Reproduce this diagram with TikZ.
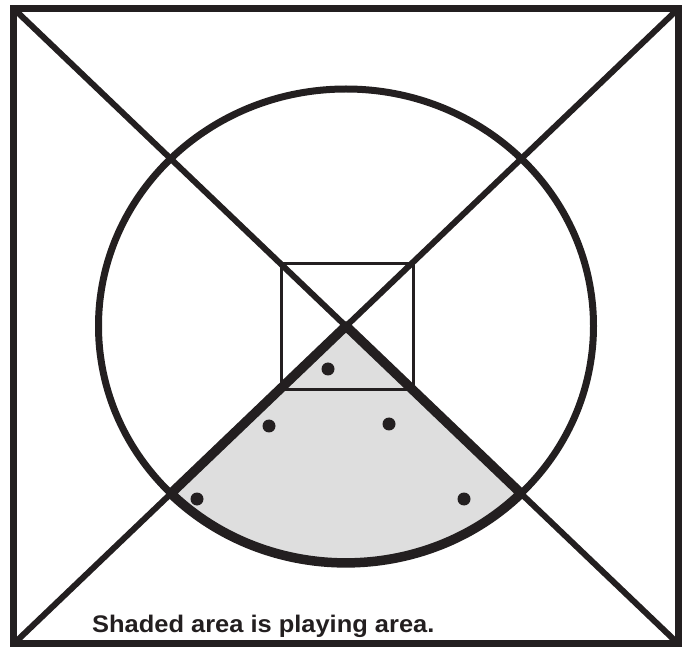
\documentclass[tikz,border=0pt]{standalone}
\usepackage{fontspec}
\setmainfont{Liberation Sans}
\definecolor{ink}{RGB}{35,31,32}
\definecolor{areagray}{RGB}{222,222,222}
\begin{document}
\begin{tikzpicture}[x=1pt,y=-1pt,
  thinline/.style={draw=ink,line width=6pt},
  thickline/.style={draw=ink,line width=9.5pt},
  frame/.style={draw=ink,line width=7.5pt},
  ring/.style={draw=ink,line width=7pt},
  inner/.style={draw=ink,line width=3pt},
  dot/.style={circle,fill=ink,inner sep=0pt,minimum size=13pt},
  caption/.style={anchor=base west,inner sep=0pt,font=\bfseries\fontsize{24}{28}\selectfont,text=ink}]
\useasboundingbox (0,0) rectangle (689,647);
% corners and centre
\coordinate (tl) at (13.5,8.5);
\coordinate (tr) at (678.5,8.5);
\coordinate (bl) at (13.5,644);
\coordinate (br) at (678.5,644);
\coordinate (c) at (346,326);
\coordinate (pl) at (170.9,493.5);
\coordinate (pr) at (521.1,493.5);
% shaded playing area
\fill[areagray] (c) -- (pl) arc[start angle=225,end angle=315,x radius=247.5pt,y radius=237pt] -- cycle;
% inner square
\draw[inner] (281,264) rectangle (413,390);
% ellipse
\draw[ring] (c) ellipse [x radius=247.5pt,y radius=237pt];
% diagonals
\draw[thinline] (tl) -- (br);
\draw[thinline] (tr) -- (bl);
% thick boundary of playing area
\draw[thickline,line join=round] (pr) -- (c) -- (pl) arc[start angle=225,end angle=315,x radius=247.5pt,y radius=237pt];
% outer frame
\draw[frame] (tl) rectangle (br);
% dots
\node[dot] (d1) at (328,369) {};
\node[dot] (d2) at (269,426) {};
\node[dot] (d3) at (389,424) {};
\node[dot] (d4) at (197,499) {};
\node[dot] (d5) at (464,499) {};
% caption
\node[caption] (cap) at (92,632) {\scalebox{1.06}[1]{Shaded area is playing area.}};
\end{tikzpicture}
\end{document}
